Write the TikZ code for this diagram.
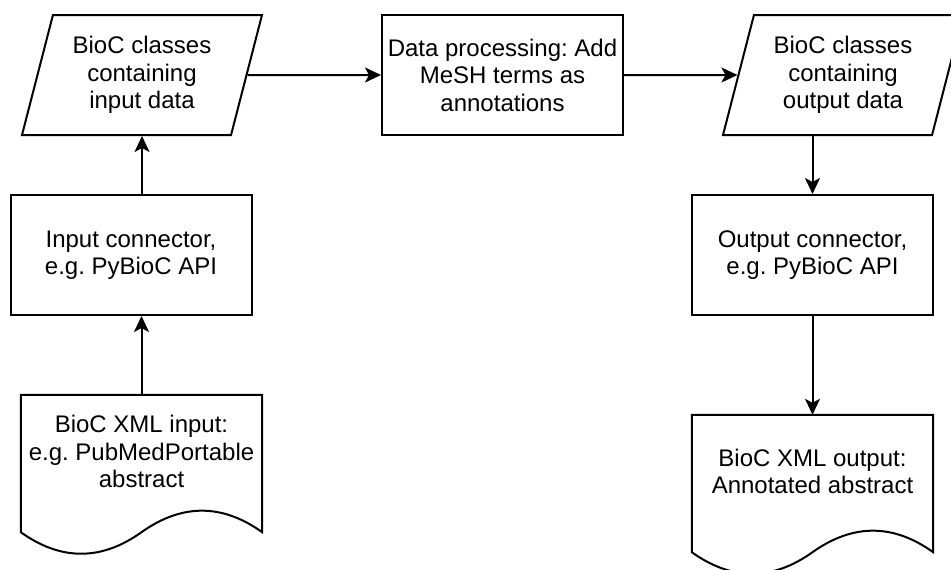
\documentclass[tikz,border=0pt]{standalone}
\usepackage{fontspec}
\setmainfont{Liberation Sans}
\usepackage{tikz}
\usetikzlibrary{positioning,arrows.meta,shapes.geometric,calc}
\frenchspacing

% outline of a document shape around a text node (wave at the bottom)
\newcommand{\docoutline}[1]{%
  \draw[line width=2pt]
    ($(#1.south east)+(0,24)$) .. controls ($(#1.south east)+(-40.2,-4.7)$) and ($(#1.south east)+(-80.3,-4.7)$) ..
    ($(#1.south)+(0,24)$) .. controls ($(#1.south)+(-40.2,52.7)$) and ($(#1.south west)+(40.2,52.7)$) ..
    ($(#1.south west)+(0,24)$) -- (#1.north west) -- (#1.north east) -- cycle;}

\begin{document}
\begin{tikzpicture}[
  x=1pt, y=-1pt, font=\fontsize{24}{27.5}\selectfont,
  box/.style={draw, line width=2pt, minimum width=241pt, minimum height=120pt, align=center, inner sep=0pt},
  para/.style={draw, line width=2pt, trapezium, trapezium left angle=68.2, trapezium right angle=111.8,
    trapezium stretches body, minimum width=240pt, minimum height=120pt, align=center, inner sep=0pt},
  doc/.style={minimum width=241pt, minimum height=113pt, align=center, inner sep=0pt},
  arr/.style={line width=2pt, -{Stealth[length=16pt, width=15pt, inset=4pt]}}]
\useasboundingbox (0,0) rectangle (951,570);
\node[para] (inp) at (142,75) {BioC classes\\containing\\input data};
\node[box] (proc) at (502.5,75) {Data processing: Add\\MeSH terms as\\annotations};
\node[para] (outp) at (843,75) {BioC classes\\containing\\output data};
\node[box] (icon) at (131,255) {Input connector,\\e.g. PyBioC API};
\node[box] (ocon) at (812.5,255) {Output connector,\\e.g. PyBioC API};
\node[doc] (src) at (141.5,451.5) {BioC XML input:\\e.g. PubMedPortable\\abstract};
\node[doc] (dst) at (812.5,471.5) {BioC XML output:\\Annotated abstract};
\docoutline{src}
\docoutline{dst}
\draw[arr] (inp.east) -- (proc.west);
\draw[arr] (proc.east) -- (outp.west);
\draw[arr] (src.north) -- (src.north |- icon.south);
\draw[arr] (inp.south |- icon.north) -- (inp.south);
\draw[arr] (ocon.north |- outp.south) -- (ocon.north);
\draw[arr] (ocon.south) -- (dst.north);
\end{tikzpicture}
\end{document}
